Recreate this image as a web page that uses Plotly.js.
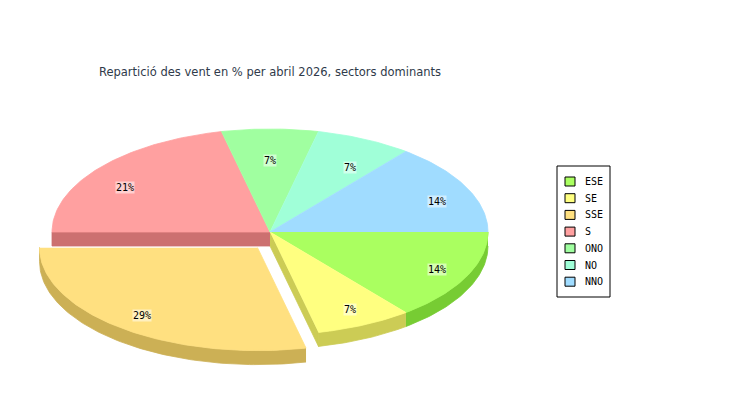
<!DOCTYPE html>
<html><head><meta charset="utf-8">
<script src="https://cdn.plot.ly/plotly-3.0.1.min.js"></script>
<style>html,body{margin:0;padding:0;background:#fff}</style>
</head><body><div id="chart" style="width:750px;height:400px"></div>
<script>
// ---- data ----
const categories = ['ESE', 'SE', 'SSE', 'S', 'ONO', 'NO', 'NNO'];
const shares = [14.29, 7.14, 28.57, 21.43, 7.14, 7.14, 14.29];
const exploded = [false, false, true, false, false, false, false];
const topColors = ['#aaff60', '#ffff80', '#ffe080', '#ffa0a0', '#a0ffa0', '#a0ffd8', '#a0dcff'];
const sideColors = ['#77cc33', '#cccc55', '#ccb055', '#cc7070', '#70cc70', '#70ccaa', '#70aacc'];
const titleText = 'Repartició des vent en % per abril 2026, sectors dominants';

// ---- geometry of the 3D pie (pixel-like axis units) ----
const CX = 270, CY = 232, RX = 218, RY = 103, DEPTH = 14, EXPLODE = 20;
const rad = d => d * Math.PI / 180;
const total = shares.reduce((a, b) => a + b, 0);

const slices = [];
let start = 0;
shares.forEach((v, i) => {
  const a0 = start, a1 = start + v / total * 360;
  const mid = (a0 + a1) / 2;
  const off = exploded[i] ? [EXPLODE * Math.cos(rad(mid)), EXPLODE * Math.sin(rad(mid))] : [0, 0];
  slices.push({i, a0, a1, mid, off, v});
  start = a1;
});

function pt(s, a, dz) {
  return [CX + s.off[0] + RX * Math.cos(rad(a)), CY + s.off[1] + RY * Math.sin(rad(a)) + (dz || 0)];
}
function arc(s, b0, b1, dz) {
  const n = Math.max(2, Math.ceil(Math.abs(b1 - b0)));
  const out = [];
  for (let k = 0; k <= n; k++) out.push(pt(s, b0 + (b1 - b0) * k / n, dz));
  return out;
}
function poly(points, color) {
  return {
    type: 'scatter', mode: 'lines', fill: 'toself',
    x: points.map(p => p[0]), y: points.map(p => p[1]),
    fillcolor: color, line: {color: color, width: 0.8},
    hoverinfo: 'skip', showlegend: false
  };
}

const sideTraces = [], topTraces = [];
slices.forEach((s, idx) => {
  // outer wall on the front (lower) half
  const b0 = Math.max(s.a0, 0), b1 = Math.min(s.a1, 180);
  if (b1 > b0) {
    const topArc = arc(s, b0, b1, 0);
    const botArc = arc(s, b1, b0, DEPTH);
    sideTraces.push(poly(topArc.concat(botArc), sideColors[s.i]));
  }
  // radial faces exposed by an exploded neighbour
  const prev = slices[(idx - 1 + slices.length) % slices.length];
  const next = slices[(idx + 1) % slices.length];
  const c = [CX + s.off[0], CY + s.off[1]];
  const face = (a) => {
    const e = pt(s, a, 0);
    return [c, e, [e[0], e[1] + DEPTH], [c[0], c[1] + DEPTH]];
  };
  if ((exploded[s.i] || exploded[prev.i]) && Math.sin(rad(s.a0 - 90)) > 0)
    sideTraces.push(poly(face(s.a0), sideColors[s.i]));
  if ((exploded[s.i] || exploded[next.i]) && Math.sin(rad(s.a1 + 90)) > 0)
    sideTraces.push(poly(face(s.a1), sideColors[s.i]));
  // top surface
  topTraces.push(poly([c].concat(arc(s, s.a0, s.a1, 0)), topColors[s.i]));
});

// ---- percentage labels ----
const LABX = 0.85, LABY = 0.84;
const annotations = slices.map(s => {
  const sn = Math.sin(rad(s.mid)), cs = Math.cos(rad(s.mid));
  return {
    x: CX + s.off[0] + RX * LABX * cs,
    y: CY + s.off[1] + RY * LABY * sn + (sn < 0 ? -sn * DEPTH * 1.1 : 0),
    xref: 'x', yref: 'y', showarrow: false,
    text: Math.round(s.v / total * 100) + '%',
    font: {family: 'DejaVu Sans Mono', size: 10, color: '#000'},
    bgcolor: 'rgba(255,255,255,0.5)', borderpad: 0,
    xanchor: 'center', yanchor: 'middle'
  };
});

// ---- legend ----
const LEG = {x0: 557, x1: 610, y0: 166, y1: 297, first: 181.5, step: 16.7};
const shapes = [{type: 'rect', xref: 'x', yref: 'y', x0: LEG.x0, x1: LEG.x1, y0: LEG.y0, y1: LEG.y1,
  line: {color: '#000', width: 1}, fillcolor: '#fff', layer: 'below'}];
categories.forEach((name, i) => {
  const yc = LEG.first + i * LEG.step;
  shapes.push({type: 'rect', xref: 'x', yref: 'y', x0: 565, x1: 575, y0: yc - 4.5, y1: yc + 4.5,
    line: {color: '#000', width: 1}, fillcolor: topColors[i]});
  annotations.push({x: 583, y: yc, xref: 'x', yref: 'y', showarrow: false, text: name,
    font: {family: 'DejaVu Sans Mono', size: 10, color: '#000'}, xanchor: 'left', yanchor: 'middle'});
});

const layout = {
  width: 750, height: 400,
  margin: {l: 0, r: 0, t: 0, b: 0},
  paper_bgcolor: '#fff', plot_bgcolor: '#fff',
  title: {text: titleText, x: 270 / 750, xanchor: 'center', y: 1 - 72 / 400, yanchor: 'middle',
    font: {family: 'DejaVu Sans', size: 11.5, color: '#2f3a4a'}},
  xaxis: {range: [0, 750], visible: false, fixedrange: true},
  yaxis: {range: [400, 0], visible: false, fixedrange: true},
  showlegend: false,
  shapes: shapes,
  annotations: annotations
};

Plotly.newPlot('chart', sideTraces.concat(topTraces), layout, {displayModeBar: false, staticPlot: true});
</script>
</body></html>
